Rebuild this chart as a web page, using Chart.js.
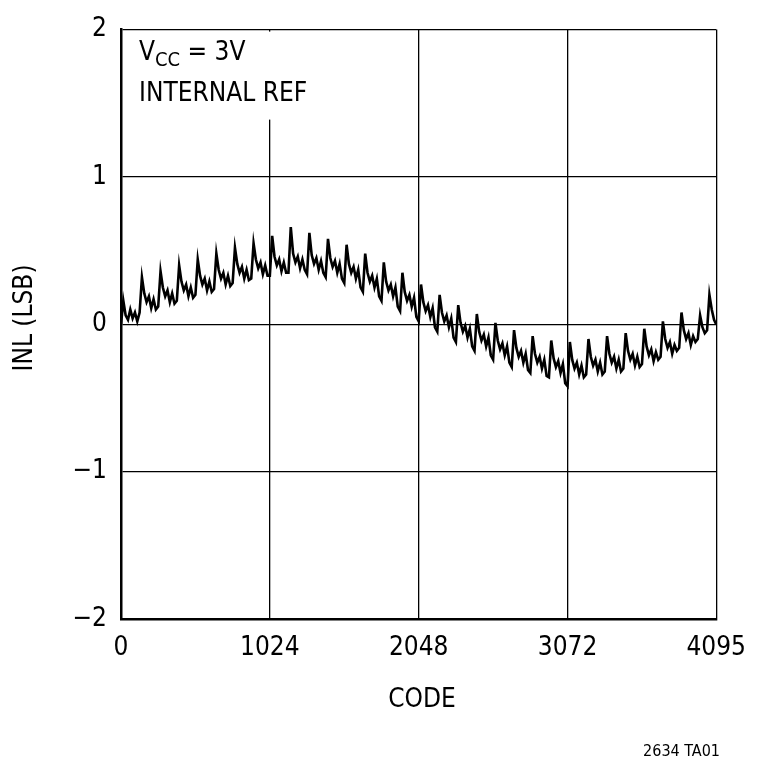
<!DOCTYPE html>
<html><head><meta charset="utf-8">
<script src="https://cdn.jsdelivr.net/npm/chart.js@4/dist/chart.umd.min.js"></script>
<style>html,body{margin:0;padding:0;background:#fff}#w{width:760px;height:765px}</style>
</head><body><div id="w"><canvas id="c"></canvas></div>
<script>
const codeStep = 16;
const inlValues = [
0.00,0.16,0.06,0.03,0.10,0.04,0.08,0.02,
0.08,0.32,0.21,0.15,0.19,0.11,0.17,0.10,
0.12,0.36,0.25,0.19,0.23,0.15,0.21,0.14,
0.16,0.40,0.29,0.23,0.27,0.19,0.25,0.18,
0.20,0.44,0.33,0.27,0.31,0.23,0.29,0.22,
0.24,0.48,0.37,0.31,0.35,0.27,0.33,0.26,
0.28,0.52,0.41,0.35,0.39,0.31,0.37,0.30,
0.31,0.55,0.44,0.38,0.42,0.34,0.40,0.33,
0.33,0.60,0.46,0.40,0.44,0.36,0.42,0.35,
0.35,0.66,0.48,0.42,0.46,0.38,0.44,0.37,
0.34,0.62,0.47,0.41,0.45,0.37,0.43,0.35,
0.32,0.58,0.45,0.39,0.43,0.35,0.41,0.31,
0.28,0.54,0.41,0.35,0.39,0.31,0.37,0.25,
0.22,0.48,0.35,0.29,0.33,0.25,0.31,0.19,
0.16,0.42,0.29,0.23,0.27,0.19,0.25,0.12,
0.09,0.35,0.22,0.16,0.20,0.12,0.18,0.05,
0.02,0.27,0.15,0.09,0.13,0.05,0.11,-0.02,
-0.05,0.20,0.08,0.02,0.06,-0.02,0.04,-0.09,
-0.12,0.13,0.01,-0.05,-0.01,-0.09,-0.03,-0.15,
-0.18,0.07,-0.05,-0.11,-0.07,-0.15,-0.09,-0.21,
-0.24,0.01,-0.11,-0.17,-0.13,-0.21,-0.15,-0.26,
-0.29,-0.04,-0.16,-0.22,-0.18,-0.26,-0.20,-0.31,
-0.33,-0.08,-0.20,-0.26,-0.22,-0.30,-0.24,-0.35,
-0.36,-0.11,-0.23,-0.29,-0.25,-0.33,-0.27,-0.40,
-0.42,-0.12,-0.24,-0.30,-0.26,-0.34,-0.28,-0.36,
-0.34,-0.10,-0.22,-0.28,-0.24,-0.32,-0.26,-0.34,
-0.32,-0.08,-0.20,-0.26,-0.22,-0.30,-0.24,-0.32,
-0.30,-0.06,-0.18,-0.24,-0.20,-0.28,-0.22,-0.29,
-0.27,-0.03,-0.15,-0.21,-0.17,-0.25,-0.19,-0.24,
-0.22,0.02,-0.10,-0.16,-0.12,-0.20,-0.14,-0.18,
-0.16,0.08,-0.04,-0.10,-0.06,-0.14,-0.08,-0.12,
-0.10,0.06,-0.02,-0.06,-0.04,0.20,0.10,0.03,
0.00];
const lastCode = 4095;
const xTicks = [0,1024,2048,3072,4095];
const yTicks = [-2,-1,0,1,2];
const yTickLabels = ['\u22122','\u22121','0','1','2'];
const FONT = "'Liberation Sans Narrow','DejaVu Sans Condensed','Roboto Condensed',sans-serif";

const pts = inlValues.map((v,i)=>({x: i===inlValues.length-1 ? lastCode : i*codeStep, y: v}));

const deco = {
  id:'deco',
  afterDraw(ch){
    const c = ch.ctx, a = ch.chartArea;
    c.save();
    c.fillStyle='#fff';
    c.fillRect(a.left+2, a.top+2, 218, 88);
    c.fillStyle='#000';
    c.textBaseline='alphabetic'; c.textAlign='left';
    c.font = "26px "+FONT;
    c.fillText('V', 139, 60);
    let w = c.measureText('V').width;
    c.font = "20px "+FONT;
    c.fillText('CC', 139+w, 66);
    let w2 = c.measureText('CC').width;
    c.font = "26px "+FONT;
    c.fillText(' = 3V', 139+w+w2, 60);
    c.fillText('INTERNAL REF', 139, 101);
    c.textAlign='center';
    c.fillText('CODE', 422, 707);
    c.save(); c.translate(32, 318); c.rotate(-Math.PI/2);
    c.fillText('INL (LSB)', 0, 0); c.restore();
    c.font = "16px "+FONT; c.textAlign='right';
    c.fillText('2634 TA01', 720, 756);
    c.restore();
  }
};

new Chart(document.getElementById('c'), {
  type:'line',
  data:{datasets:[{data:pts, borderColor:'#000', borderWidth:2.6, pointRadius:0, tension:0, fill:false}]},
  options:{
    responsive:true, maintainAspectRatio:false, animation:false,
    layout:{padding:{top:7,right:32,left:0,bottom:0}},
    plugins:{legend:{display:false},tooltip:{enabled:false}},
    scales:{
      x:{type:'linear', min:0, max:4095,
        afterBuildTicks(s){ s.ticks = xTicks.map(v=>({value:v})); },
        afterFit(s){ s.height = 146; },
        ticks:{color:'#000', font:{family:FONT,size:26}, padding:14, maxRotation:0, autoSkip:false, callback:v=>String(v)},
        grid:{color:'#000', lineWidth:1.3, drawTicks:false},
        border:{color:'#000', width:2.5}},
      y:{min:-2, max:2,
        afterBuildTicks(s){ s.ticks = yTicks.map(v=>({value:v})); },
        afterFit(s){ s.width = 121; },
        ticks:{color:'#000', font:{family:FONT,size:26}, padding:14, callback:v=>yTickLabels[yTicks.indexOf(v)]},
        grid:{color:'#000', lineWidth:1.3, drawTicks:false},
        border:{color:'#000', width:2.5}}
    }
  },
  plugins:[deco]
});
</script></body></html>
